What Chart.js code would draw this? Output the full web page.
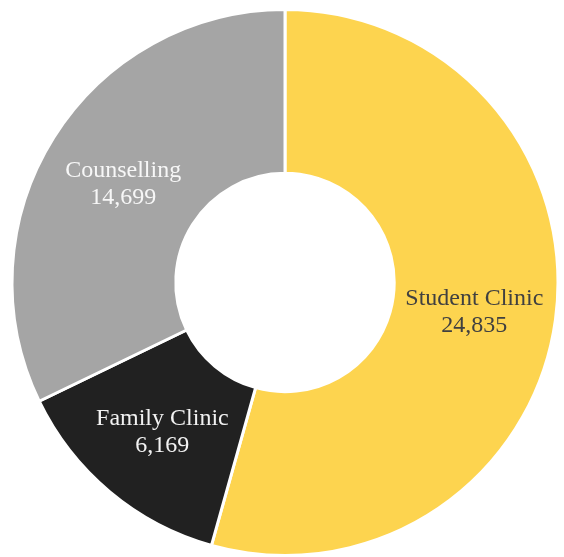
<!DOCTYPE html>
<html>
<head>
<meta charset="utf-8">
<script src="https://cdn.jsdelivr.net/npm/chart.js@4/dist/chart.umd.min.js"></script>
<style>
  html, body { margin: 0; padding: 0; background: #fff; }
  #wrap { width: 564px; height: 557px; position: relative; }
</style>
</head>
<body>
<div id="wrap"><canvas id="chart"></canvas></div>
<script>
// Data
const categories = ['Student Clinic', 'Family Clinic', 'Counselling'];
const visits = [24835, 6169, 14699];
const sliceColors = ['#fdd44f', '#212121', '#a5a5a5'];
const labelColors = ['#404040', '#f2f2f2', '#f7f7f7'];

// Draw the label + value in the middle of each slice
const sliceLabels = {
  id: 'sliceLabels',
  afterDatasetsDraw(chart) {
    const ctx = chart.ctx;
    const meta = chart.getDatasetMeta(0);
    ctx.save();
    ctx.font = '24px "Liberation Serif", Georgia, serif';
    ctx.textAlign = 'center';
    ctx.textBaseline = 'middle';
    meta.data.forEach((arc, i) => {
      const { startAngle, endAngle, innerRadius, outerRadius, x, y } = arc.getProps(['startAngle', 'endAngle', 'innerRadius', 'outerRadius', 'x', 'y'], true);
      const mid = (startAngle + endAngle) / 2;
      const r = (innerRadius + outerRadius) / 2;
      const cx = x + Math.cos(mid) * r;
      const cy = y + Math.sin(mid) * r + 3;
      ctx.fillStyle = labelColors[i];
      ctx.fillText(categories[i], cx, cy - 13);
      ctx.fillText(visits[i].toLocaleString('en-US'), cx, cy + 14);
    });
    ctx.restore();
  }
};

new Chart(document.getElementById('chart'), {
  type: 'doughnut',
  data: {
    labels: categories,
    datasets: [{
      data: visits,
      backgroundColor: sliceColors,
      borderColor: '#ffffff',
      borderWidth: 3
    }]
  },
  options: {
    responsive: true,
    maintainAspectRatio: false,
    animation: false,
    cutout: '40%',
    layout: { padding: { top: 8, bottom: 0, left: 6, right: 0 } },
    plugins: {
      legend: { display: false },
      tooltip: { enabled: false }
    }
  },
  plugins: [sliceLabels]
});
</script>
</body>
</html>
